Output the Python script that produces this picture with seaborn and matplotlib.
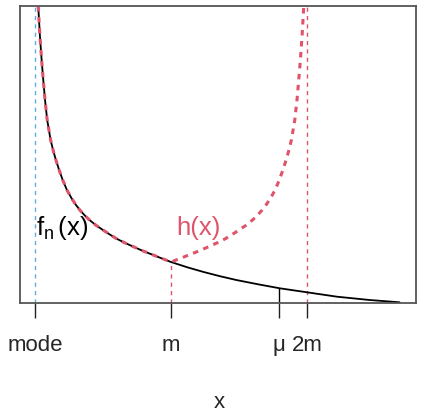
import matplotlib
matplotlib.use("Agg")
import matplotlib.pyplot as plt
import seaborn as sns
import numpy as np
import pandas as pd

sns.set_theme(style="white")
plt.rcParams["font.family"] = ["Liberation Sans", "DejaVu Sans"]
plt.rcParams["mathtext.fontset"] = "custom"
plt.rcParams["mathtext.rm"] = "Liberation Sans"
plt.rcParams["mathtext.it"] = "Liberation Sans"

# density f_n(x) (x in units of m, mode at 0)
x_vals = [0.024, 0.036, 0.049, 0.061, 0.074, 0.090, 0.115, 0.135, 0.154,
          0.18, 0.204, 0.235, 0.270, 0.30, 0.331, 0.365, 0.40, 0.45, 0.50,
          0.55, 0.60, 0.66, 0.72, 0.79, 0.86, 0.93, 1.0, 1.12, 1.24, 1.36,
          1.48, 1.64, 1.80, 2.0, 2.22, 2.46, 2.68]
f_vals = [297, 268, 243, 223, 203, 183, 163, 152, 143,
          132, 123, 113, 104.5, 98.3, 92.8, 87.7, 83.1, 77.6, 73,
          68.5, 64.3, 60.2, 56.5, 52.3, 48.5, 44.7, 41, 35.7, 31, 26.8,
          23, 18.7, 14.7, 10.7, 6.3, 3, 0.7]

mode_x = 0.0
m_x = 1.0
mu_x = 1.795
two_m_x = 2.0
tick_pos = [mode_x, m_x, mu_x, two_m_x]
tick_labels = ["mode", "m", "\u03bc", "2m"]

f_df = pd.DataFrame({"x": x_vals, "y": f_vals})

# h(x): f below m, f reflected about m above it
left = f_df[f_df["x"] <= m_x]
right = left[left["x"] < m_x].iloc[::-1]
h_df = pd.DataFrame({
    "x": list(left["x"]) + list(2 * m_x - right["x"]),
    "y": list(left["y"]) + list(right["y"]),
})

f_at_m = float(f_df.loc[f_df["x"] == m_x, "y"].iloc[0])
f_at_mu = 14.9

pink = "#DF536B"
blue = "#5BAEE6"

fig = plt.figure(figsize=(4.25, 4.12), dpi=100)
ax = fig.add_axes([20 / 425, 109 / 412, 396 / 425, 297 / 412])

ax.axvline(mode_x, color=blue, lw=1, dashes=(3, 3))
ax.axvline(two_m_x, color=pink, lw=1, dashes=(3, 3))
ax.vlines(m_x, 0, f_at_m, color=pink, lw=1, linestyles=(0, (3, 3)))
ax.vlines(mu_x, 0, f_at_mu, color="black", lw=1)

sns.lineplot(data=f_df, x="x", y="y", ax=ax, color="black", lw=1.3,
             estimator=None, sort=False)
sns.lineplot(data=h_df, x="x", y="y", ax=ax, color=pink, lw=2.2,
             estimator=None, sort=False, dashes=False)
ax.lines[-1].set_dashes((1.8, 1.8))

ax.text(0.005, 75, r"$\mathrm{f_n\,(x)}$", fontsize=18.5, color="black",
        ha="left", va="center")
ax.text(1.04, 75, "h(x)", fontsize=18.5, color=pink, ha="left", va="center")

ax.set_xlim(-0.110, 2.801)
ax.set_ylim(0, 297)
ax.set_yticks([])
ax.set_xticks(tick_pos)
ax.set_xticklabels(tick_labels, fontsize=16)
ax.tick_params(axis="x", direction="out", length=10.8, width=1,
               color="#222222", pad=12.5, bottom=True)
ax.set_xlabel("")
ax.set_ylabel("")
for sp in ax.spines.values():
    sp.set_color("#555555")
    sp.set_linewidth(1.3)

fig.text(219 / 425, 4 / 412, "x", fontsize=16, ha="center", va="baseline")

fig.savefig("out.png", dpi=100)
